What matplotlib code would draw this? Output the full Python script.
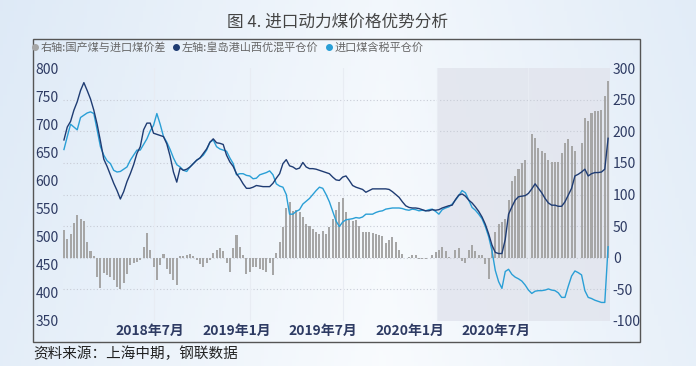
import numpy as np
import pandas as pd
import matplotlib
matplotlib.use('Agg')
import matplotlib.pyplot as plt
from matplotlib.lines import Line2D
from matplotlib.patches import Rectangle

plt.rcParams['font.family'] = ['Noto Sans CJK SC', 'DejaVu Sans']
plt.rcParams['axes.unicode_minus'] = False

# === data (weekly) ===
dates = pd.date_range('2018-01-01', periods=165, freq='7D')

# 左轴: 秦皇岛港山西优混平仓价
qhd_price = [
    672, 695, 705, 725, 740, 760, 774, 760, 745, 725,
    700, 670, 638, 625, 610, 595, 582, 567, 580, 598,
    612, 628, 648, 660, 690, 702, 702, 684, 682, 680,
    678, 665, 643, 615, 597, 622, 618, 620, 624, 630,
    636, 640, 648, 656, 668, 674, 667, 666, 664, 645,
    633, 625, 612, 604, 594, 586, 586, 588, 591, 590,
    589, 589, 589, 595, 604, 612, 630, 637, 626, 624,
    620, 622, 632, 624, 621, 621, 620, 618, 616, 614,
    612, 606, 601, 600, 606, 608, 600, 591, 588, 586,
    584, 579, 582, 585, 585, 585, 585, 585, 584, 580,
    575, 570, 562, 555, 552, 551, 551, 550, 548, 546,
    546, 548, 547, 548, 551, 553, 555, 556, 566, 574,
    576, 572, 565, 560, 553, 545, 535, 522, 505, 485,
    472, 470, 470, 495, 540, 553, 565, 571, 572, 573,
    577, 585, 594, 586, 578, 568, 560, 556, 556, 554,
    554, 562, 574, 586, 608, 611, 615, 620, 608, 612,
    614, 614, 615, 620, 675,
]

# 左轴: 进口煤含税平仓价
import_price = [
    655, 678, 700, 695, 690, 712, 716, 720, 722, 719,
    690, 660, 645, 635, 630, 618, 615, 616, 620, 624,
    636, 645, 654, 654, 664, 674, 688, 698, 719, 700,
    678, 668, 655, 640, 628, 624, 618, 616, 624, 630,
    636, 640, 645, 654, 668, 672, 660, 656, 654, 652,
    640, 630, 610, 612, 612, 609, 608, 603, 604, 610,
    612, 614, 617, 610, 594, 590, 588, 575, 540, 540,
    545, 548, 558, 563, 568, 575, 582, 588, 586, 575,
    562, 545, 528, 518, 526, 530, 531, 532, 534, 533,
    535, 540, 540, 540, 543, 545, 546, 549, 550, 551,
    551, 551, 550, 548, 547, 549, 548, 546, 547, 546,
    548, 549, 545, 540, 548, 551, 553, 558, 565, 573,
    582, 578, 565, 552, 547, 540, 532, 518, 500, 475,
    440, 420, 408, 438, 442, 433, 428, 425, 421, 414,
    405, 399, 403, 404, 404, 405, 407, 405, 404, 400,
    392, 392, 412, 430, 439, 436, 432, 404, 392, 390,
    387, 385, 383, 383, 482,
]

# 右轴: 国产煤与进口煤价差
price_gap = [
    44, 30, 38, 55, 68, 62, 58, 25, 10, 2,
    -30, -48, -24, -28, -30, -35, -46, -49, -40, -25,
    -12, -8, -6, -3, 17, 39, 12, -14, -35, -12,
    6, -18, -25, -35, -43, 2, 2, 5, 6, 2,
    -4, -10, -14, -9, -4, 7, 12, 15, 10, -9,
    -22, 15, 36, 17, 5, -25, -22, -14, -14, -17,
    -20, -22, -8, -28, 8, 25, 48, 78, 88, 74,
    76, 72, 65, 54, 50, 45, 40, 37, 42, 38,
    48, 62, 76, 88, 94, 72, 60, 58, 60, 50,
    41, 40, 41, 39, 38, 36, 34, 23, 28, 33,
    25, 12, 6, 0, 1, 4, 4, -2, -2, -2,
    -1, 4, 9, 12, 17, 10, 1, 0, 12, 16,
    -5, -9, 12, 20, 10, 4, 4, -10, -33, 20,
    41, 54, 57, 62, 92, 122, 130, 140, 150, 155,
    0, 195, 189, 174, 168, 166, 155, 152, 152, 152,
    166, 181, 187, 176, 168, 0, 181, 221, 216, 229,
    232, 232, 234, 255, 280,
]

tick_dates = ['2018-07-01', '2019-01-01', '2019-07-01', '2020-01-01', '2020-07-01']
tick_labels = ['2018年7月', '2019年1月', '2019年7月', '2020年1月', '2020年7月']
vgrid_dates = ['2018-07-10', '2019-01-29', '2019-08-12', '2020-02-26', '2020-09-06']
shade_start = '2020-02-26'

label_gap = '右轴:国产煤与进口煤价差'
label_qhd = '左轴:皇岛港山西优混平仓价'
label_imp = '进口煤含税平仓价'

c_dark = '#1f3c73'
c_light = '#2a9fd6'
c_bar = '#a6a6a6'
c_tick = '#2e3b63'

# === figure ===
fig = plt.figure(figsize=(6.96, 3.66), dpi=100)

# light blue-ish background gradient
bg = fig.add_axes([0, 0, 1, 1], zorder=-10)
gx = np.linspace(0, 1, 200)
gy = np.linspace(0, 1, 100)
X, Y = np.meshgrid(gx, gy)
t = np.clip(np.abs(X - 0.55) * 1.6, 0, 1) * 0.8 + Y * 0.2
c0 = np.array([0.975, 0.985, 0.995])
c1 = np.array([0.86, 0.91, 0.965])
img = c0[None, None, :] * (1 - t[..., None]) + c1[None, None, :] * t[..., None]
bg.imshow(img, aspect='auto', extent=[0, 1, 0, 1], origin='lower')
bg.axis('off')

ax = fig.add_axes([63 / 696, 45 / 366, 547 / 696, 253 / 366])
ax.set_facecolor('none')
ax2 = ax.twinx()
ax2.set_facecolor('none')

# bars on right axis
ax.bar(dates, price_gap, width=4.3, color=c_bar, zorder=2)
ax.set_ylim(-100, 300)
ax.set_yticks(range(-100, 301, 50))
ax.yaxis.tick_right()
ax.tick_params(axis='y', length=0, pad=2, labelsize=10, labelcolor=c_tick)

x0 = pd.Timestamp('2017-12-30')
x1 = pd.Timestamp('2021-02-26')
ax.set_xlim(x0, x1)
ax.axvspan(pd.Timestamp(shade_start), x1, color='#e2e5ee', alpha=0.85, lw=0, zorder=0)
for v in range(-50, 300, 50):
    ax.axhline(v, color='#c8ccd6', lw=0.8, ls=(0, (1, 2)), zorder=1)
for d in vgrid_dates:
    ax.axvline(pd.Timestamp(d), color='#e8ecf3', lw=0.8, zorder=1)

ax.set_xticks([pd.Timestamp(d) for d in tick_dates])
ax.set_xticklabels(tick_labels, fontsize=10, fontweight='bold', color=c_tick)
ax.tick_params(axis='x', length=0, pad=2)

# lines on left axis
ax2.plot(dates, import_price, color=c_light, lw=1.0, zorder=3)
ax2.plot(dates, qhd_price, color=c_dark, lw=1.0, zorder=4)
ax2.set_ylim(350, 800)
ax2.set_yticks(range(350, 801, 50))
ax2.yaxis.tick_left()
ax2.tick_params(axis='y', length=0, pad=3, labelsize=10, labelcolor=c_tick)

for a in (ax, ax2):
    for s in a.spines.values():
        s.set_visible(False)

# legend
handles = [
    Line2D([], [], marker='o', ls='', color=c_bar, markersize=4),
    Line2D([], [], marker='o', ls='', color=c_dark, markersize=4),
    Line2D([], [], marker='o', ls='', color=c_light, markersize=4),
]
fig.legend(handles, [label_gap, label_qhd, label_imp], loc='center left',
           bbox_to_anchor=(32 / 696, 1 - 48 / 366), ncol=3, frameon=False,
           fontsize=8, labelcolor='#666666', handlelength=0.6, handletextpad=0.2,
           columnspacing=0.6, borderaxespad=0, borderpad=0)

# outer frame
fig.patches.append(Rectangle((33 / 696, 1 - 342 / 366), 607 / 696, 303 / 366,
                             transform=fig.transFigure, fill=False,
                             edgecolor='#555555', lw=1.0, zorder=5))

fig.text(0.485, 1 - 22 / 366, '图 4. 进口动力煤价格优势分析', ha='center', va='center',
         fontsize=12, color='#444444')
fig.text(33 / 696, 1 - 354 / 366, '资料来源：上海中期，钢联数据', ha='left', va='center',
         fontsize=10.5, color='#222222')

fig.savefig('out.png', dpi=100)
